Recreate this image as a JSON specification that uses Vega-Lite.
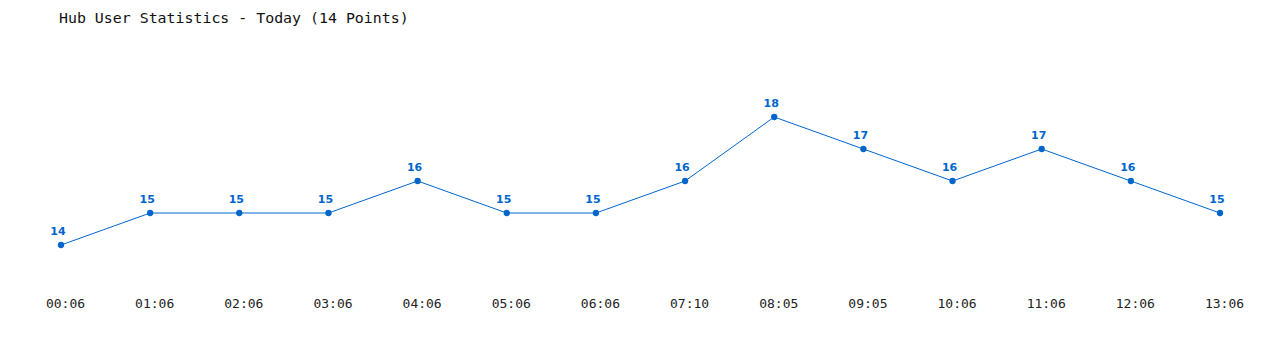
{
  "$schema": "https://vega.github.io/schema/vega-lite/v6.json",
  "width": 1280,
  "height": 250,
  "autosize": "none",
  "padding": {"top": 40, "left": 0, "right": 0, "bottom": 60},
  "background": "white",
  "config": {"view": {"stroke": null}},
  "title": {
    "text": "Hub User Statistics - Today (14 Points)",
    "anchor": "start",
    "frame": "group",
    "font": "DejaVu Sans Mono",
    "fontSize": 14.9,
    "fontWeight": "normal",
    "color": "#111111",
    "dx": 59,
    "offset": 14
  },
  "data": {
    "values": [
      {"time": "00:06", "users": 14},
      {"time": "01:06", "users": 15},
      {"time": "02:06", "users": 15},
      {"time": "03:06", "users": 15},
      {"time": "04:06", "users": 16},
      {"time": "05:06", "users": 15},
      {"time": "06:06", "users": 15},
      {"time": "07:10", "users": 16},
      {"time": "08:05", "users": 18},
      {"time": "09:05", "users": 17},
      {"time": "10:06", "users": 16},
      {"time": "11:06", "users": 17},
      {"time": "12:06", "users": 16},
      {"time": "13:06", "users": 15}
    ]
  },
  "encoding": {
    "x": {
      "field": "time",
      "type": "ordinal",
      "sort": null,
      "scale": {"type": "point", "range": [61, 1220], "padding": 0},
      "axis": {
        "title": null,
        "domain": false,
        "ticks": false,
        "tickSize": 0,
        "grid": false,
        "labelAngle": 0,
        "labelPadding": 7,
        "labelOffset": 4,
        "labelFont": "DejaVu Sans Mono",
        "labelFontSize": 13,
        "labelColor": "#222222"
      }
    },
    "y": {
      "field": "users",
      "type": "quantitative",
      "scale": {"domain": [13, 19], "range": [237, 45], "zero": false, "nice": false},
      "axis": null
    }
  },
  "layer": [
    {"mark": {"type": "line", "color": "#0066cc", "strokeWidth": 1}},
    {"mark": {"type": "point", "filled": true, "color": "#0066cc", "size": 40, "opacity": 1}},
    {
      "mark": {"type": "text", "color": "#0066cc", "font": "DejaVu Sans", "fontWeight": "bold", "fontSize": 11, "dy": -13, "dx": -3},
      "encoding": {"text": {"field": "users", "type": "quantitative"}}
    }
  ]
}
